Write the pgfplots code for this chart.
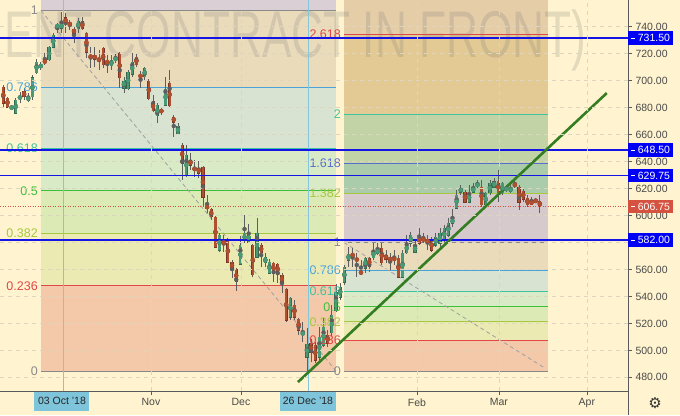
\documentclass[border=0pt]{standalone}
\usepackage{graphicx}
\usepackage{pgfplots}
\pgfplotsset{compat=1.18}
\usepackage{pgfplotstable}
\usepackage{fontspec}
\setmainfont{Liberation Sans}
\newfontfamily\symfont{DejaVu Sans}

\definecolor{bg}{HTML}{FFF4CF}
\definecolor{axc}{HTML}{5A5A5A}
\definecolor{tickc}{HTML}{4A4A4A}
\definecolor{gridc}{HTML}{DDD5C0}
\definecolor{hblue}{HTML}{1414E6}
\definecolor{boxblue}{HTML}{0000F5}
\definecolor{boxred}{HTML}{D4523F}
\definecolor{vline}{HTML}{86C6DA}
\definecolor{datebox}{HTML}{7EC4DA}
\definecolor{trend}{HTML}{347D22}
\definecolor{upc}{HTML}{4A9A76}
\definecolor{upe}{HTML}{33694F}
\definecolor{dnc}{HTML}{B0502F}
\definecolor{dne}{HTML}{7A3526}
\definecolor{wick}{HTML}{5E5E5E}
% fib level colours
\definecolor{lgray}{HTML}{8A8A8A}
\definecolor{lblue}{HTML}{4BA3D9}
\definecolor{lteal}{HTML}{3EC4A0}
\definecolor{lgreen}{HTML}{3CC03C}
\definecolor{lyel}{HTML}{A5C83E}
\definecolor{lred}{HTML}{E04848}
\definecolor{lind}{HTML}{5A6ED0}
% fib zone colours
\definecolor{zlav}{HTML}{D9CFD5}
\definecolor{ztan}{HTML}{EADBBB}
\definecolor{zblue}{HTML}{D9E3D2}
\definecolor{zgrn}{HTML}{D8EBC6}
\definecolor{zlim}{HTML}{DCEBB6}
\definecolor{zyel}{HTML}{EBEAB2}
\definecolor{zpch}{HTML}{F4C9AA}
\definecolor{ztop}{HTML}{E5CDA8}
\definecolor{zgold}{HTML}{E3CA94}
\definecolor{zolv}{HTML}{C2D3A6}
\definecolor{zsea}{HTML}{AACCAA}
\definecolor{zgry}{HTML}{D6CACC}

% k = bar number, o h l c = prices
\pgfplotstableread{
k o h l c
1 695.3 696.8 680.4 683.4
2 687.1 687.9 679.7 680.4
3 679.0 681.9 678.2 681.2
4 676.0 687.1 675.3 685.6
5 686.4 691.6 683.4 688.6
6 692.3 694.5 685.6 687.9
7 685.6 690.8 684.2 687.9
8 687.9 704.2 685.6 702.0
9 705.7 716.0 704.9 713.8
10 710.1 713.8 707.9 711.6
11 715.3 720.5 711.6 713.1
12 715.3 725.7 714.6 724.9
13 724.9 735.3 724.2 733.8
14 739.8 742.7 735.3 741.3
15 739.0 750.9 735.3 742.0
16 746.5 750.2 735.3 742.7
17 742.7 745.0 737.6 741.3
18 738.3 739.8 727.9 735.3
19 738.3 746.5 735.3 744.2
20 744.2 747.2 737.6 738.3
21 735.3 736.1 716.8 721.2
22 718.3 724.9 709.4 717.5
23 719.0 724.9 710.1 716.0
24 716.8 722.7 707.9 714.6
25 724.2 724.6 709.4 711.6
26 714.6 719.0 705.7 713.1
27 710.9 719.0 707.9 715.3
28 715.3 720.5 713.1 716.8
29 720.5 720.9 694.5 702.0
30 694.5 702.7 690.8 700.5
31 693.8 707.9 693.1 706.4
32 704.9 720.5 702.7 713.8
33 717.5 720.5 710.1 711.6
34 704.9 707.1 694.5 702.0
35 702.7 710.1 700.5 709.4
36 699.7 701.2 685.6 686.4
37 684.9 689.4 676.7 677.5
38 673.8 683.4 668.6 681.9
39 678.2 680.4 674.5 676.7
40 681.9 702.7 681.2 693.8
41 698.2 707.9 680.4 681.2
42 673.0 674.5 658.2 669.3
43 660.4 668.6 659.7 666.4
44 652.3 653.8 626.3 638.9
45 630.0 652.3 628.5 644.9
46 641.1 646.3 633.7 637.4
47 635.9 641.1 628.5 633.0
48 635.2 640.4 627.8 631.5
49 635.9 636.7 606.3 613.7
50 607.0 615.2 601.8 605.5
51 604.8 605.5 596.6 598.9
52 598.9 599.6 575.9 576.6
53 574.4 587.0 572.9 585.5
54 581.1 585.5 572.9 578.8
55 581.8 583.3 564.8 565.5
56 565.5 567.0 553.6 560.3
57 560.3 561.0 544.0 550.7
58 564.0 584.8 563.3 578.1
59 581.1 600.4 579.6 587.0
60 580.3 593.7 579.6 587.0
61 578.1 578.8 554.4 555.9
62 569.2 598.1 568.5 587.0
63 578.1 579.6 561.8 572.2
64 564.8 572.2 561.8 569.2
65 557.3 567.7 556.6 565.5
66 564.8 565.5 550.7 557.3
67 564.0 564.8 549.9 556.6
68 555.9 557.3 542.5 549.9
69 545.5 546.2 521.0 522.5
70 524.7 540.3 522.5 538.8
71 533.6 537.3 522.5 524.7
72 523.2 524.0 511.4 515.1
73 511.4 521.0 506.2 513.6
74 495.0 516.6 484.7 504.7
75 505.4 508.4 491.3 498.8
76 503.9 506.2 490.6 492.8
77 495.0 517.3 492.8 509.9
78 503.9 524.0 502.5 517.3
79 511.4 515.1 502.5 505.4
80 512.9 533.6 510.7 526.2
81 529.9 549.2 528.4 543.3
82 539.5 549.9 537.3 547.0
83 550.7 563.3 548.4 561.8
84 567.0 576.6 561.8 571.4
85 572.2 575.9 561.8 569.2
86 567.7 572.2 554.4 567.0
87 558.1 567.0 555.9 557.3
88 561.0 569.2 557.3 568.5
89 568.5 569.2 558.1 562.5
90 568.5 579.6 567.0 574.4
91 572.2 579.6 570.7 574.4
92 575.9 579.6 563.3 564.8
93 570.7 574.4 564.8 567.7
94 568.5 572.2 559.6 567.0
95 568.5 574.4 563.3 567.0
96 568.5 570.7 553.6 554.4
97 554.4 574.4 553.6 572.2
98 572.2 585.5 571.4 579.6
99 579.6 587.7 576.6 585.5
100 572.9 582.6 572.2 578.1
101 584.0 590.7 578.1 579.6
102 583.3 587.0 579.6 581.1
103 582.6 585.5 574.4 579.6
104 581.8 584.0 572.9 574.4
105 578.1 587.0 576.6 584.0
106 579.6 590.7 575.9 587.0
107 581.8 593.0 580.3 590.7
108 585.5 598.1 584.0 594.4
109 594.4 604.8 591.5 597.4
110 605.5 618.9 604.8 615.2
111 617.4 622.6 615.2 620.4
112 617.4 618.9 609.3 610.0
113 610.0 622.6 609.3 616.7
114 617.4 624.1 616.7 621.1
115 621.9 626.3 620.4 623.4
116 621.1 626.3 606.3 607.8
117 607.8 617.4 606.3 616.7
118 616.7 626.3 615.2 624.1
119 621.1 627.8 620.4 625.6
120 625.6 633.7 610.0 616.7
121 616.7 624.8 615.2 624.1
122 618.9 622.6 617.4 620.4
123 618.1 622.6 616.7 620.4
124 623.4 626.3 620.4 621.9
125 621.1 622.6 604.1 610.0
126 618.1 620.4 610.0 612.2
127 613.0 615.2 606.3 607.8
128 610.7 613.7 607.8 608.5
129 611.5 613.0 609.3 610.0
130 610.7 615.2 601.8 606.75
}\candles

% the four blue horizontal levels
\pgfplotstableread{
x y
0.21 629.75
151.2 629.75
}\lvlA
\pgfplotstableread{
x y
0.21 731.5
151.2 731.5
}\lvlB
\pgfplotstableread{
x y
0.21 648.5
151.2 648.5
}\lvlC
\pgfplotstableread{
x y
0.21 582.0
151.2 582.0
}\lvlD

% fib zone: x1 x2 y1 y2 colour
\newcommand{\zone}[5]{\addplot[draw=none, fill=#5] coordinates {(#1,#3) (#2,#3) (#2,#4) (#1,#4)} -- cycle;}
% level line: x1 x2 y colour
\newcommand{\level}[4]{\addplot[color=#4, line width=0.9pt] coordinates {(#1,#3) (#2,#3)};}
% level label: x y colour text
\newcommand{\flab}[4]{\node[anchor=east, text=#3, inner sep=0pt, font=\fontsize{12.5}{13}\selectfont] at (axis cs:#1,#2) {#4};}
% candle layer: colour, width, filter range, extra half height
\newcommand{\body}[4]{\addplot[color=#1, only marks, mark=none, restrict expr to domain={\thisrow{c}-\thisrow{o}}{#3},
  error bars/.cd, y dir=both, y explicit, error mark=none, error bar style={color=#1, line width=#2}]
  table[x=k, y expr={(\thisrow{o}+\thisrow{c})/2}, y error expr={abs(\thisrow{c}-\thisrow{o})/2+#4}] {\candles};}
% price box on the right axis, drawn after the axis
\newcommand{\pbox}[3]{\node[anchor=west, fill=#2, text=white, inner sep=0pt, minimum width=45pt, minimum height=13.5pt, font=\fontsize{10.5}{12}\selectfont] at (#1) {\rule[3pt]{4pt}{0.8pt}\hspace{2.5pt}#3\hspace{2pt}};}

\begin{document}
\begin{tikzpicture}
\path[use as bounding box] (0pt,0pt) rectangle (680pt,415pt);
\fill[bg] (0pt,0pt) rectangle (680pt,415pt);
\begin{axis}[
  at={(0pt,24pt)}, anchor=south west,
  scale only axis, width=628pt, height=391pt,
  xmin=0.21, xmax=151.2, ymin=469.9, ymax=759.8,
  clip=false, axis on top,
  axis x line*=bottom, axis y line*=right,
  axis line style={draw=axc, line width=0.8pt},
  tick align=outside, major tick length=4pt,
  tick style={draw=axc, line width=0.6pt},
  ytick={480,500,...,740},
  xtick={36.5,58.14,100.45,120.16,141.31},
  xticklabels={Nov,Dec,Feb,Mar,Apr},
  /pgf/number format/assume math mode=true,
  y tick label style={/pgf/number format/fixed, /pgf/number format/fixed zerofill, /pgf/number format/precision=2},
  tick label style={font=\fontsize{10.5}{12}\selectfont, text=tickc},
  grid=major,
  major grid style={draw=gridc, dash pattern=on 4pt off 4pt, line width=0.6pt},
]
% left fib retracement
\zone{10.06}{81.0}{752.0}{759.8}{zlav}
\zone{10.06}{81.0}{694.8}{752.0}{ztan}
\zone{10.06}{81.0}{649.9}{694.8}{zblue}
\zone{10.06}{81.0}{618.35}{649.9}{zgrn}
\zone{10.06}{81.0}{586.8}{618.35}{zlim}
\zone{10.06}{81.0}{547.8}{586.8}{zyel}
\zone{10.06}{81.0}{484.7}{547.8}{zpch}
% right fib extension
\zone{82.9}{131.9}{734.2}{759.8}{ztop}
\zone{82.9}{131.9}{675.3}{734.2}{zgold}
\zone{82.9}{131.9}{638.9}{675.3}{zolv}
\zone{82.9}{131.9}{616.4}{638.9}{zsea}
\zone{82.9}{131.9}{580.0}{616.4}{zgry}
\zone{82.9}{131.9}{559.6}{580.0}{ztan}
\zone{82.9}{131.9}{543.6}{559.6}{zblue}
\zone{82.9}{131.9}{532.35}{543.6}{zgrn}
\zone{82.9}{131.9}{521.1}{532.35}{zlim}
\zone{82.9}{131.9}{507.2}{521.1}{zyel}
\zone{82.9}{131.9}{484.7}{507.2}{zpch}

% watermark
\node[anchor=base west, text=black!55, opacity=0.2, inner sep=0pt, font=\fontsize{66}{66}\selectfont] at (axis cs:1.17,716.8) {\scalebox{0.67}[1]{ENT CONTRACT IN FRONT)}};

% level lines
\level{10.06}{81.0}{752.0}{lgray}
\level{10.06}{81.0}{694.8}{lblue}
\level{10.06}{81.0}{649.9}{lteal}
\level{10.06}{81.0}{618.35}{lgreen}
\level{10.06}{81.0}{586.8}{lyel}
\level{10.06}{81.0}{547.8}{lred}
\level{10.06}{81.0}{484.7}{lgray}
\level{82.9}{131.9}{734.2}{lred}
\level{82.9}{131.9}{675.3}{lteal}
\level{82.9}{131.9}{638.9}{lind}
\level{82.9}{131.9}{616.4}{lyel}
\level{82.9}{131.9}{580.0}{lgray}
\level{82.9}{131.9}{559.6}{lblue}
\level{82.9}{131.9}{543.6}{lteal}
\level{82.9}{131.9}{532.35}{lgreen}
\level{82.9}{131.9}{521.1}{lyel}
\level{82.9}{131.9}{507.2}{lred}
\level{82.9}{131.9}{484.7}{lgray}

% diagonal guides
\addplot[color=gray!75, dash pattern=on 4pt off 3pt, line width=0.8pt] coordinates {(10.06,752.0) (81.0,484.7)};
\addplot[color=gray!75, dash pattern=on 4pt off 3pt, line width=0.8pt] coordinates {(82.9,580.0) (131.2,486.9)};

% date markers
\addplot[color=vline, line width=0.9pt] coordinates {(15.35,469.9) (15.35,759.8)};
\addplot[color=vline, line width=0.9pt] coordinates {(74.25,469.9) (74.25,759.8)};

% candles: wicks, then bodies (edge and fill)
\addplot[color=wick, only marks, mark=none, error bars/.cd, y dir=both, y explicit, error mark=none,
  error bar style={color=wick, line width=0.8pt}]
  table[x=k, y expr={(\thisrow{h}+\thisrow{l})/2}, y error expr={(\thisrow{h}-\thisrow{l})/2}] {\candles};
\body{upe}{3.2pt}{0:1000}{0.35}
\body{upc}{2.3pt}{0:1000}{0}
\body{dne}{3.2pt}{-1000:-0.01}{0.35}
\body{dnc}{2.3pt}{-1000:-0.01}{0}

% labels (over the candles)
\flab{9.34}{752.0}{lgray}{1}
\flab{9.34}{694.8}{lblue}{0.786}
\flab{9.34}{649.9}{lteal}{0.618}
\flab{9.34}{618.35}{lgreen}{0.5}
\flab{9.34}{586.8}{lyel}{0.382}
\flab{9.34}{547.8}{lred}{0.236}
\flab{9.34}{484.7}{lgray}{0}
\flab{82.2}{734.2}{lred}{2.618}
\flab{82.2}{675.3}{lteal}{2}
\flab{82.2}{638.9}{lind}{1.618}
\flab{82.2}{616.4}{lyel}{1.382}
\flab{82.2}{580.0}{lgray}{1}
\flab{82.2}{559.6}{lblue}{0.786}
\flab{82.2}{543.6}{lteal}{0.618}
\flab{82.2}{532.35}{lgreen}{0.5}
\flab{82.2}{521.1}{lyel}{0.382}
\flab{82.2}{507.2}{lred}{0.236}
\flab{82.2}{484.7}{lgray}{0}

% horizontal levels
\addplot[draw=hblue, line width=1.8pt] table[x=x, y=y] {\lvlA};
\addplot[draw=hblue, line width=1.8pt] table[x=x, y=y] {\lvlB};
\addplot[draw=hblue, line width=1.8pt] table[x=x, y=y] {\lvlC};
\addplot[draw=hblue, line width=1.8pt] table[x=x, y=y] {\lvlD};
\addplot[color=boxred, line width=0.8pt, dash pattern=on 1pt off 1.5pt] coordinates {(0.21,606.75) (151.2,606.75)};

% trend line
\addplot[color=trend, line width=2.6pt] coordinates {(71.84,476.5) (146.1,690.8)};

% anchors for the price boxes
\coordinate (p1) at (axis cs:151.2,731.5);
\coordinate (p2) at (axis cs:151.2,648.5);
\coordinate (p3) at (axis cs:151.2,629.75);
\coordinate (p4) at (axis cs:151.2,582.0);
\coordinate (p5) at (axis cs:151.2,606.75);

% date boxes
\node[anchor=north, fill=datebox, text=black!85, inner sep=0pt, minimum width=55pt, minimum height=20pt, font=\fontsize{10.5}{12}\selectfont] at (axis cs:15.1,469.9) {03 Oct '18};
\node[anchor=north, fill=datebox, text=black!85, inner sep=0pt, minimum width=56pt, minimum height=20pt, font=\fontsize{10.5}{12}\selectfont] at (axis cs:74.25,469.9) {26 Dec '18};
\end{axis}
\pbox{p1}{boxblue}{731.50}
\pbox{p2}{boxblue}{648.50}
\pbox{p3}{boxblue}{629.75}
\pbox{p4}{boxblue}{582.00}
\pbox{p5}{boxred}{606.75}
\draw[axc, line width=0.8pt] (628pt,0pt) -- (628pt,24pt);
\node[text=black!80, font=\symfont\fontsize{15}{15}\selectfont] at (655pt,12pt) {⚙};
\end{tikzpicture}
\end{document}
